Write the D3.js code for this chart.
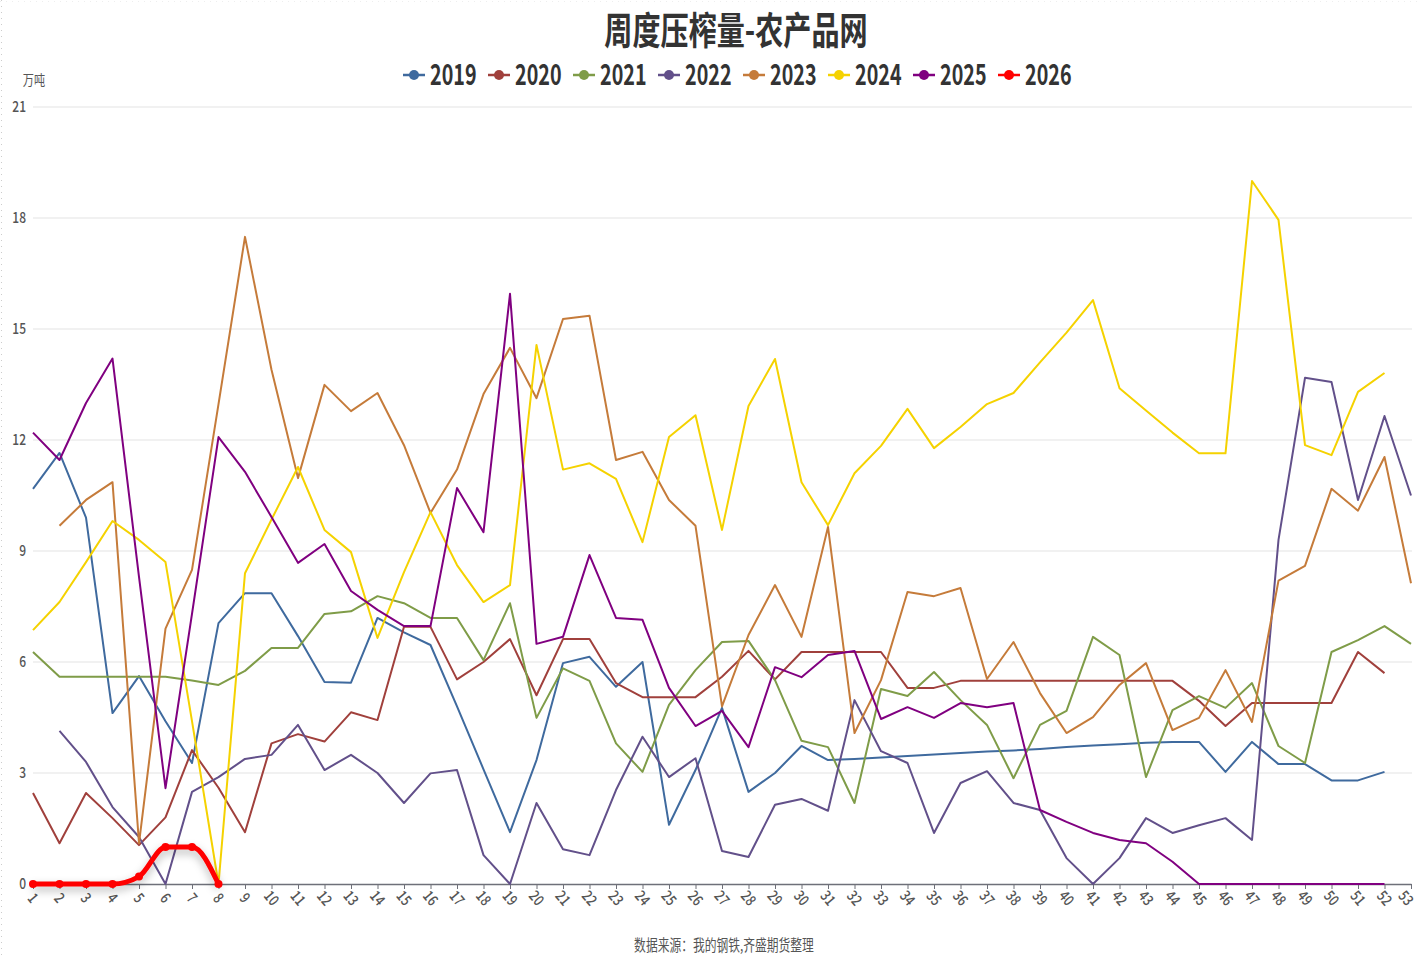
<!DOCTYPE html>
<html>
<head>
<meta charset="utf-8">
<script src="https://cdn.jsdelivr.net/npm/d3@7"></script>
<style>
  body { margin: 0; background: #fff; }
  svg { display: block; font-family: "Noto Sans CJK SC", "Noto Sans", sans-serif; }
</style>
</head>
<body>
<svg width="1417" height="955"></svg>
<script>
var weeks = d3.range(1, 54);
var years = ["2019", "2020", "2021", "2022", "2023", "2024", "2025", "2026"];
var colors = ["#3F6A9E", "#A0403C", "#7F9C48", "#62508A", "#C57B3A", "#F5D200", "#800080", "#FF0000"];
var yTicks = [0, 3, 6, 9, 12, 15, 18, 21];

var s2019 = [10.68, 11.65, 9.9, 4.62, 5.62, 4.4, 3.27, 7.05, 7.86, 7.86, 6.7, 5.46, 5.44, 7.19, 6.8, 6.46, 4.8, 3.1, 1.4, 3.35,
  5.97, 6.14, 5.33, 6.0, 1.6, 3.08, 4.76, 2.49, 3.0, 3.73, 3.35, 3.38, 3.42, 3.46, 3.5, 3.54, 3.58, 3.61, 3.65, 3.7,
  3.74, 3.78, 3.82, 3.84, 3.84, 3.03, 3.84, 3.24, 3.24, 2.8, 2.8, 3.03, null];
var s2020 = [2.46, 1.1, 2.46, 1.78, 1.05, 1.8, 3.62, 2.6, 1.4, 3.8, 4.05, 3.85, 4.64, 4.43, 6.95, 6.95, 5.53, 6.0, 6.62, 5.1,
  6.62, 6.62, 5.43, 5.05, 5.05, 5.05, 5.6, 6.3, 5.53, 6.27, 6.27, 6.27, 6.27, 5.3, 5.3, 5.49, 5.49, 5.49, 5.49, 5.49,
  5.49, 5.49, 5.49, 5.49, 4.95, 4.27, 4.89, 4.89, 4.89, 4.89, 6.27, 5.7, null];
var s2021 = [6.27, 5.6, 5.6, 5.6, 5.6, 5.6, 5.5, 5.38, 5.76, 6.38, 6.38, 7.3, 7.37, 7.78, 7.59, 7.19, 7.19, 6.05, 7.59, 4.49,
  5.83, 5.49, 3.8, 3.03, 4.84, 5.78, 6.54, 6.57, 5.51, 3.87, 3.7, 2.19, 5.27, 5.08, 5.73, 4.97, 4.3, 2.86, 4.3, 4.68,
  6.68, 6.19, 2.89, 4.7, 5.08, 4.76, 5.43, 3.73, 3.27, 6.27, 6.59, 6.97, 6.49];
var s2022 = [null, 4.14, 3.3, 2.08, 1.27, 0, 2.49, 2.89, 3.38, 3.49, 4.3, 3.08, 3.49, 3.0, 2.19, 2.99, 3.08, 0.78, 0, 2.19,
  0.94, 0.78, 2.54, 3.98, 2.89, 3.4, 0.89, 0.73, 2.14, 2.3, 1.98, 4.97, 3.59, 3.27, 1.38, 2.73, 3.05, 2.19, 2.0, 0.7,
  0, 0.7, 1.78, 1.38, 1.59, 1.78, 1.19, 9.3, 13.68, 13.57, 10.38, 12.65, 10.5];
var s2023 = [null, 9.68, 10.38, 10.86, 1.1, 6.9, 8.49, 12.97, 17.49, 13.9, 10.97, 13.49, 12.78, 13.27, 11.86, 10.03, 11.2, 13.24, 14.49, 13.13,
  15.27, 15.36, 11.46, 11.68, 10.38, 9.68, 4.8, 6.73, 8.08, 6.68, 9.65, 4.08, 5.51, 7.89, 7.78, 8.0, 5.54, 6.54, 5.16, 4.08,
  4.51, 5.38, 5.97, 4.16, 4.49, 5.78, 4.38, 8.2, 8.6, 10.68, 10.09, 11.54, 8.13];
var s2024 = [6.86, 7.62, 8.7, 9.81, 9.3, 8.7, 4.4, 0, 8.4, 9.85, 11.27, 9.57, 8.97, 6.65, 8.43, 10.05, 8.62, 7.62, 8.08, 14.57,
  11.2, 11.37, 10.95, 9.24, 12.08, 12.67, 9.57, 12.92, 14.19, 10.86, 9.7, 11.1, 11.84, 12.84, 11.78, 12.35, 12.97, 13.27, 14.1, 14.9,
  15.78, 13.4, 12.8, 12.2, 11.64, 11.64, 19.0, 17.95, 11.86, 11.59, 13.3, 13.81, null];
var s2025 = [12.2, 11.46, 13.0, 14.2, 8.3, 2.59, 7.3, 12.08, 11.14, 9.92, 8.68, 9.19, 7.92, 7.41, 6.97, 6.97, 10.7, 9.51, 15.95, 6.49,
  6.68, 8.89, 7.19, 7.14, 5.3, 4.27, 4.68, 3.7, 5.86, 5.59, 6.19, 6.3, 4.46, 4.78, 4.49, 4.89, 4.78, 4.89, 2.0, 1.68,
  1.38, 1.19, 1.1, 0.6, 0, 0, 0, 0, 0, 0, 0, 0, null];
var s2026 = [0, 0, 0, 0, 0.2, 1.0, 1.0, 0];

var seriesList = [s2019, s2020, s2021, s2022, s2023, s2024, s2025, s2026];

var svg = d3.select("svg");
var squeeze = 0.72;

var x = d3.scalePoint().domain(weeks).range([33, 1411]);
var y = d3.scaleLinear().domain([0, 21]).range([884, 107]);

// faint dotted frame on the left / top
svg.append("line").attr("x1", 1.5).attr("x2", 1.5).attr("y1", 0).attr("y2", 955)
    .attr("stroke", "#ccc").attr("stroke-dasharray", "1,5");
svg.append("line").attr("x1", 0).attr("x2", 1417).attr("y1", 1.5).attr("y2", 1.5)
    .attr("stroke", "#eee").attr("stroke-dasharray", "1,5");

// grid
svg.append("g").selectAll("line")
  .data(yTicks.filter(function(d) { return d > 0; }))
  .enter().append("line")
    .attr("x1", 33).attr("x2", 1412)
    .attr("y1", function(d) { return y(d); })
    .attr("y2", function(d) { return y(d); })
    .attr("stroke", "#e3e3e3").attr("stroke-width", 1);

// y labels
svg.append("g").selectAll("g")
  .data(yTicks)
  .enter().append("g")
    .attr("transform", function(d) { return "translate(26," + (y(d) + 5) + ") scale(0.8,1)"; })
  .append("text")
    .attr("text-anchor", "end")
    .attr("font-size", 15)
    .attr("font-weight", 500)
    .attr("fill", "#555")
    .text(function(d) { return d; });

svg.append("g").attr("transform", "translate(34,85) scale(0.8,1)")
  .append("text").attr("text-anchor", "middle").attr("font-size", 14).attr("fill", "#555").text("万吨");

// x axis
var xAxis = d3.axisBottom(x).tickSize(5).tickSizeOuter(0).tickFormat("");
var gx = svg.append("g").attr("transform", "translate(0,884)").call(xAxis);
gx.select(".domain").attr("stroke", "#6E7079").attr("stroke-width", 1.5);
gx.selectAll(".tick line").attr("stroke", "#6E7079");

svg.append("g").selectAll("g")
  .data(weeks)
  .enter().append("g")
    .attr("transform", function(d) { return "translate(" + Math.min(x(d), 1406) + ",898) rotate(50) scale(0.8,1)"; })
  .append("text")
    .attr("text-anchor", "middle")
    .attr("dy", "0.35em")
    .attr("font-size", 15)
    .attr("font-weight", 500)
    .attr("fill", "#555")
    .text(function(d) { return d; });

// shadow for the current year
var defs = svg.append("defs");
defs.append("filter").attr("id", "shadow").attr("x", "-20%").attr("y", "-50%").attr("width", "140%").attr("height", "200%")
  .append("feDropShadow").attr("dx", 0).attr("dy", 4).attr("stdDeviation", 4)
  .attr("flood-color", "#000").attr("flood-opacity", 0.3);

// lines
var line = d3.line()
    .defined(function(d) { return d != null; })
    .x(function(d, i) { return x(weeks[i]); })
    .y(function(d) { return y(d); });

var plot = svg.append("g");
seriesList.forEach(function(s, k) {
  var last = k == seriesList.length - 1;
  plot.append("path")
    .datum(s)
    .attr("fill", "none")
    .attr("stroke", colors[k])
    .attr("stroke-width", last ? 5 : 2)
    .attr("stroke-linejoin", "round")
    .attr("filter", last ? "url(#shadow)" : null)
    .attr("d", last ? line.curve(d3.curveMonotoneX)(s) : line.curve(d3.curveLinear)(s));
});

plot.append("g").selectAll("circle")
  .data(s2026)
  .enter().append("circle")
    .attr("cx", function(d, i) { return x(weeks[i]); })
    .attr("cy", function(d) { return y(d); })
    .attr("r", 4)
    .attr("fill", "#FF0000");

// title
svg.append("g").attr("transform", "translate(736,44) scale(0.74,1)")
  .append("text")
    .attr("text-anchor", "middle")
    .attr("font-size", 38)
    .attr("font-weight", "bold")
    .attr("fill", "#333")
    .text("周度压榨量-农产品网");

// legend
var legend = svg.append("g").selectAll("g")
  .data(years)
  .enter().append("g")
    .attr("transform", function(d, i) { return "translate(" + (403 + i * 85) + ",75)"; });

legend.append("line")
    .attr("x1", 0).attr("x2", 22).attr("y1", 0).attr("y2", 0)
    .attr("stroke", function(d, i) { return colors[i]; })
    .attr("stroke-width", 2.5);
legend.append("circle")
    .attr("cx", 11).attr("cy", 0).attr("r", 5)
    .attr("fill", function(d, i) { return colors[i]; });
legend.append("g")
    .attr("transform", "translate(27,10) scale(0.68,1)")
  .append("text")
    .attr("font-size", 29)
    .attr("font-weight", "bold")
    .attr("fill", "#333")
    .text(function(d) { return d; });

// source
svg.append("g").attr("transform", "translate(724,951) scale(0.76,1)")
  .append("text")
    .attr("text-anchor", "middle")
    .attr("font-size", 15.5)
    .attr("fill", "#555")
    .text("数据来源：我的钢铁,齐盛期货整理");
</script>
</body>
</html>
